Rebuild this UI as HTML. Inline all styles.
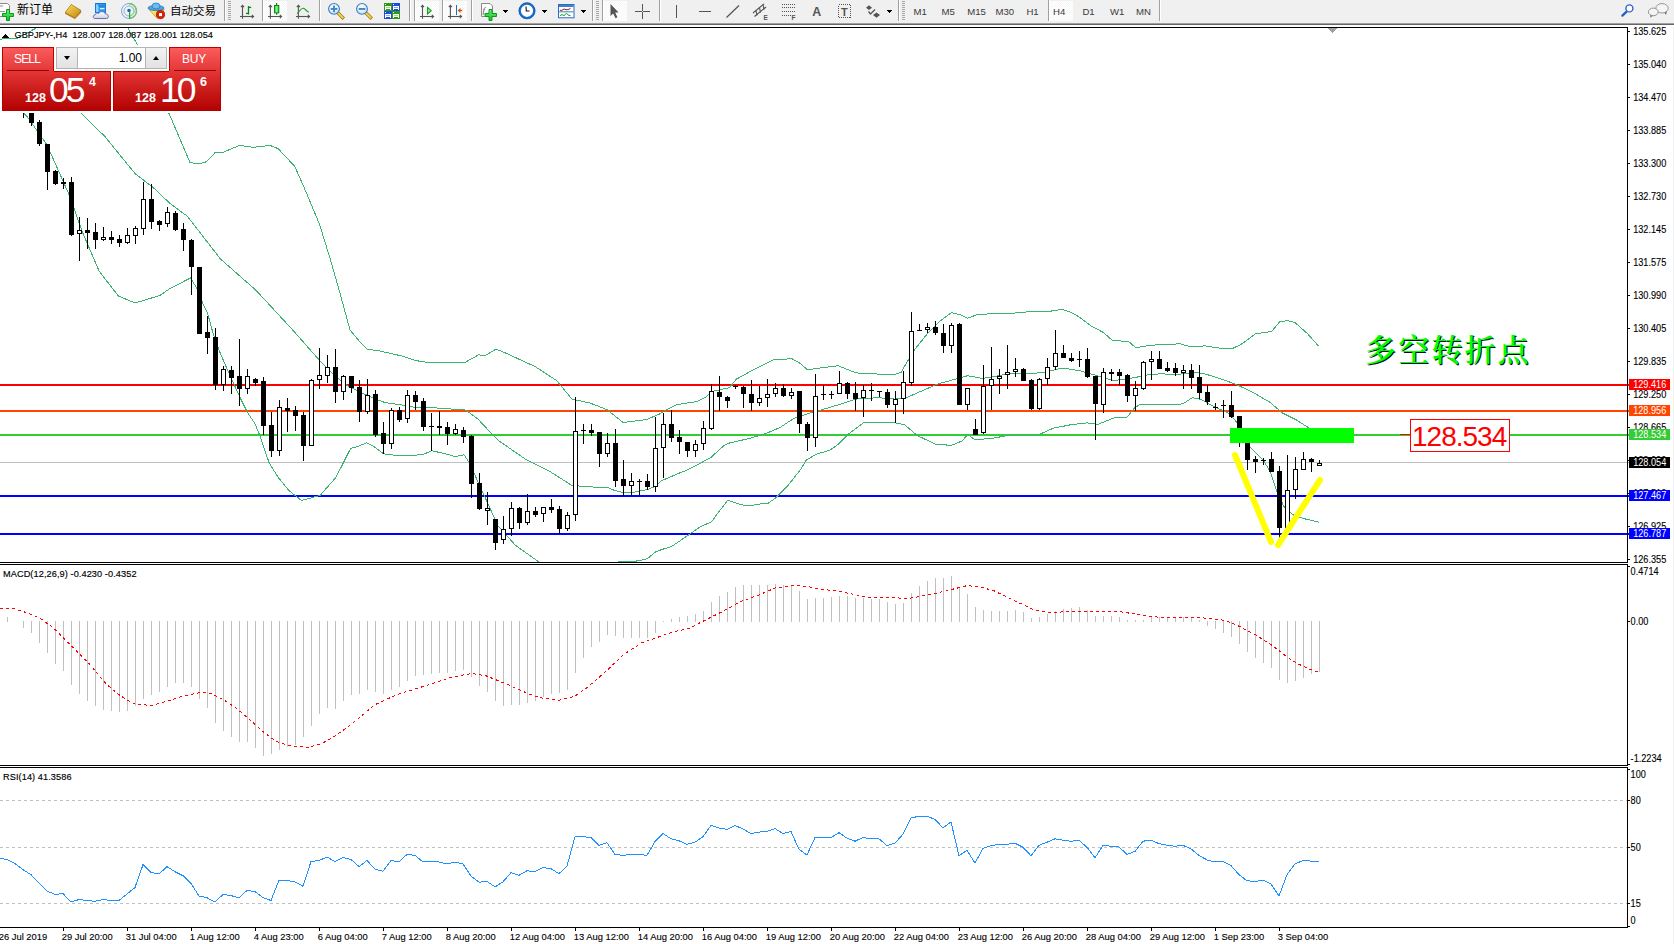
<!DOCTYPE html>
<html><head><meta charset="utf-8"><title>GBPJPY H4</title><style>
html,body{margin:0;padding:0;width:1674px;height:944px;overflow:hidden;background:#fff;}
body{position:relative;font-family:"Liberation Sans",Arial,sans-serif;}
#mask{position:absolute;left:0;top:45px;width:224px;height:68px;background:#fff;}
#sellTab,#buyTab{position:absolute;top:47px;width:50px;height:23px;border:1px solid #c10000;border-bottom:none;
  background:linear-gradient(#fa5c5c,#e43737);}
#sellTab{left:2px;} #buyTab{left:169px;}
#sellTab span,#buyTab span{position:absolute;top:4px;left:0;width:100%;text-align:center;color:#fff;font-size:12px;}
#sellTab span{letter-spacing:-0.8px;margin-left:-1px;} #buyTab span{letter-spacing:-0.3px;margin-left:-1px;}
#sellTab i,#buyTab i{position:absolute;left:4px;right:4px;top:22px;height:1px;background:#8c0000;box-shadow:0 1px 0 #f07070;}
#sellBig,#buyBig{position:absolute;top:71px;width:107px;height:39px;border:1px solid #b00000;border-top:none;
  background:linear-gradient(#e53535,#c51616 60%,#b40202);color:#fff;}
#sellBig{left:2px;} #buyBig{left:113px;width:106px;}
#sellBig b,#buyBig b{position:absolute;top:20px;font-size:12.5px;font-weight:700;}
#sellBig em,#buyBig em{position:absolute;top:-1px;font-style:normal;font-size:35.5px;letter-spacing:-3px;}
#sellBig sup,#buyBig sup{position:absolute;top:4px;font-size:12.5px;font-weight:700;}
#sellBig b{left:22px;} #sellBig em{left:46px;} #sellBig sup{left:86px;}
#buyBig b{left:21px;} #buyBig em{left:46px;} #buyBig sup{left:86px;}
.tl{position:absolute;top:71px;height:1px;background:#b30000;}
#lot{position:absolute;left:56px;top:47px;width:109px;height:20px;border:1px solid #b4b4b4;background:#fff;}
#lot .btn{position:absolute;top:0;width:20px;height:20px;background:linear-gradient(#f2f2f2,#e2e2e2);}
#lot .l{left:0;border-right:1px solid #b4b4b4;} #lot .r{right:0;border-left:1px solid #b4b4b4;}
#lot .val{position:absolute;right:24px;top:3px;font-size:12px;color:#000;}
#lot s{position:absolute;left:7px;width:0;height:0;border-left:3.5px solid transparent;border-right:3.5px solid transparent;}
#lot .dn{top:8px;border-top:4px solid #000;}
#lot .up{top:8px;border-bottom:4px solid #000;}
</style></head>
<body>
<svg id="chart" width="1674" height="944" viewBox="0 0 1674 944" shape-rendering="crispEdges" style="position:absolute;left:0;top:0">
<defs><clipPath id="cMain"><rect x="0" y="28" width="1627" height="534"/></clipPath><clipPath id="cMacd"><rect x="0" y="565" width="1627" height="200"/></clipPath><clipPath id="cRsi"><rect x="0" y="768" width="1627" height="159"/></clipPath></defs>
<rect x="0" y="0" width="1674" height="944" fill="#ffffff"/>
<g clip-path="url(#cMain)">
<rect x="0" y="462" width="1627" height="1" fill="#c0c0c0"/>
<rect x="0" y="384" width="1627" height="2" fill="#ff0000"/>
<rect x="0" y="410" width="1627" height="2" fill="#ff4500"/>
<rect x="0" y="434" width="1627" height="2" fill="#32cd32"/>
<rect x="0" y="495" width="1627" height="2" fill="#0000ff"/>
<rect x="0" y="533" width="1627" height="2" fill="#0000ff"/>
<polyline points="0.0,39.1 17.0,38.3 37.3,27.5 60.0,10.5 110.0,10.5 127.6,27.5 137.6,45.1 169.4,114.3 190.0,162.5 198.3,163.9 206.6,161.7 214.9,152.8 223.0,152.3 239.7,145.4 253.4,147.3 270.0,145.4 278.2,148.7 294.8,166.5 305.8,191.4 319.6,224.5 330.6,260.3 340.0,293.3 350.0,330.0 358.7,340.5 367.7,349.5 377.6,350.5 401.0,355.8 415.4,360.5 430.7,363.0 449.6,362.1 464.0,363.0 478.4,354.9 485.6,355.3 495.5,349.5 500.0,350.5 535.0,366.5 556.5,380.5 572.0,399.1 590.0,403.0 607.5,409.9 623.0,422.5 646.7,419.5 660.0,413.8 666.2,409.7 677.0,404.7 696.8,401.5 705.8,397.1 711.2,391.7 729.2,387.7 736.4,379.1 754.4,369.2 774.2,359.3 792.2,358.9 799.4,362.9 807.5,369.7 820.0,368.0 838.0,365.7 856.0,372.9 874.0,373.9 893.8,374.7 901.0,372.5 913.6,350.9 928.0,332.9 938.8,322.1 951.4,312.7 960.4,314.9 967.6,318.1 976.6,314.9 992.8,313.5 1009.8,313.5 1029.6,311.7 1049.4,311.3 1062.0,309.5 1071.0,312.2 1080.0,317.5 1090.8,325.7 1103.4,332.5 1112.4,340.5 1128.6,341.5 1135.8,347.7 1152.0,345.1 1170.0,344.5 1179.8,343.7 1190.6,346.9 1205.0,345.9 1223.0,348.7 1232.0,348.7 1241.0,344.5 1255.4,333.8 1271.6,331.5 1279.7,321.7 1287.8,320.7 1295.0,322.5 1307.6,333.8 1318.4,345.9" fill="none" stroke="#3cb371" stroke-width="1"/>
<polyline points="40.0,60.5 82.0,114.3 104.7,136.3 135.0,173.5 154.3,188.5 170.0,203.5 187.3,216.2 220.4,258.9 256.2,290.5 292.0,329.2 319.6,360.5 332.6,373.8 347.0,385.5 363.2,393.5 377.6,399.9 384.8,402.5 401.0,404.9 415.4,407.5 431.6,407.5 446.0,408.9 464.0,409.3 469.4,412.5 478.4,419.5 492.8,435.0 499.6,441.3 525.0,458.9 548.6,470.7 572.0,485.5 600.0,487.5 608.0,487.5 614.6,490.5 623.8,492.8 631.8,492.8 639.7,490.8 647.7,489.5 655.6,486.2 661.0,480.9 668.9,477.6 679.5,473.0 686.0,470.7 700.7,463.0 711.3,457.1 724.5,445.1 729.8,442.9 740.4,440.5 750.8,438.1 767.0,433.1 779.6,427.7 794.0,418.3 812.0,412.4 820.0,410.3 838.0,404.9 856.0,399.1 877.6,397.7 895.6,399.1 906.4,397.7 920.8,391.4 937.0,384.2 955.0,379.3 967.6,375.7 982.0,378.3 990.0,377.5 1008.0,373.9 1026.0,373.9 1044.0,372.5 1062.0,368.0 1080.0,370.7 1090.8,373.9 1101.6,377.0 1112.4,380.5 1125.0,379.3 1137.6,377.0 1148.4,374.7 1160.0,373.9 1178.0,374.3 1196.0,372.5 1203.2,373.4 1219.4,378.3 1235.6,384.2 1253.6,392.7 1269.8,402.2 1282.4,413.0 1296.8,420.2 1309.4,428.3 1320.0,433.5" fill="none" stroke="#3cb371" stroke-width="1"/>
<polyline points="10.0,80.5 24.8,114.3 27.5,117.0 46.8,144.5 68.9,194.2 82.6,232.5 99.2,271.3 118.5,296.1 135.0,303.0 159.8,295.5 170.0,288.5 190.5,278.0 197.0,288.5 202.4,302.3 207.8,314.0 213.2,333.8 220.4,353.5 229.5,374.5 240.3,398.0 247.5,412.4 254.7,423.2 260.0,435.8 269.1,462.8 278.1,477.3 288.9,490.5 301.5,500.5 320.0,495.5 336.0,477.3 350.6,448.5 357.8,446.5 366.8,442.7 374.0,446.7 383.9,453.9 399.2,455.7 422.6,454.8 431.6,450.7 446.0,453.9 455.0,456.5 464.0,454.8 469.4,462.9 478.4,482.7 491.0,510.5 497.6,525.5 515.3,545.2 538.8,561.9 560.0,570.5 600.0,570.5 619.2,561.7 634.4,561.3 641.0,560.4 647.7,558.4 655.6,551.8 661.0,549.8 671.5,546.5 679.5,541.2 690.0,533.9 700.7,526.5 711.3,522.0 719.2,511.4 727.8,500.1 735.1,502.8 743.0,505.1 753.6,505.1 756.3,504.1 767.5,503.8 776.2,497.5 786.8,486.9 800.0,470.3 806.6,459.7 817.4,453.8 830.0,450.2 838.0,444.5 848.8,433.7 863.2,422.9 895.6,422.9 904.6,424.7 917.2,435.5 935.2,444.1 951.4,445.4 962.2,440.9 967.6,434.5 974.8,439.5 990.0,438.7 1008.0,435.5 1026.0,434.0 1040.4,434.0 1053.0,428.3 1071.0,424.7 1087.2,422.9 1098.0,424.3 1116.0,417.1 1126.8,417.5 1134.0,408.5 1139.4,404.5 1160.0,404.5 1178.0,404.9 1183.4,403.5 1192.4,397.7 1201.4,399.5 1214.0,406.7 1228.4,413.0 1237.4,422.9 1249.7,446.5 1263.0,459.8 1270.4,471.7 1276.4,490.2 1283.8,506.5 1292.7,514.7 1303.0,518.4 1318.6,522.1" fill="none" stroke="#3cb371" stroke-width="1"/>
<rect x="23" y="100" width="1" height="18" fill="#000"/>
<rect x="21" y="100" width="5" height="13" fill="#000"/>
<rect x="31" y="105" width="1" height="21" fill="#000"/>
<rect x="29" y="105" width="5" height="18" fill="#000"/>
<rect x="39" y="120" width="1" height="26" fill="#000"/>
<rect x="37" y="122" width="5" height="22" fill="#000"/>
<rect x="47" y="144" width="1" height="46" fill="#000"/>
<rect x="45" y="144" width="5" height="28" fill="#000"/>
<rect x="55" y="170" width="1" height="15" fill="#000"/>
<rect x="53" y="171" width="5" height="13" fill="#000"/>
<rect x="63" y="178" width="1" height="11" fill="#000"/>
<rect x="61" y="182" width="5" height="2" fill="#000"/>
<rect x="71" y="177" width="1" height="59" fill="#000"/>
<rect x="69" y="182" width="5" height="53" fill="#000"/>
<rect x="79" y="217" width="1" height="44" fill="#000"/>
<rect x="77" y="230" width="5" height="4" fill="#000"/>
<rect x="78" y="231" width="3" height="2" fill="#fff"/>
<rect x="87" y="218" width="1" height="31" fill="#000"/>
<rect x="85" y="230" width="5" height="3" fill="#000"/>
<rect x="95" y="223" width="1" height="26" fill="#000"/>
<rect x="93" y="232" width="5" height="8" fill="#000"/>
<rect x="103" y="227" width="1" height="14" fill="#000"/>
<rect x="101" y="237" width="5" height="3" fill="#000"/>
<rect x="102" y="238" width="3" height="1" fill="#fff"/>
<rect x="111" y="231" width="1" height="13" fill="#000"/>
<rect x="109" y="237" width="5" height="3" fill="#000"/>
<rect x="119" y="235" width="1" height="12" fill="#000"/>
<rect x="117" y="239" width="5" height="4" fill="#000"/>
<rect x="127" y="228" width="1" height="16" fill="#000"/>
<rect x="125" y="235" width="5" height="8" fill="#000"/>
<rect x="126" y="236" width="3" height="6" fill="#fff"/>
<rect x="135" y="226" width="1" height="18" fill="#000"/>
<rect x="133" y="228" width="5" height="8" fill="#000"/>
<rect x="134" y="229" width="3" height="6" fill="#fff"/>
<rect x="143" y="182" width="1" height="53" fill="#000"/>
<rect x="141" y="199" width="5" height="30" fill="#000"/>
<rect x="142" y="200" width="3" height="28" fill="#fff"/>
<rect x="151" y="184" width="1" height="45" fill="#000"/>
<rect x="149" y="199" width="5" height="23" fill="#000"/>
<rect x="159" y="220" width="1" height="11" fill="#000"/>
<rect x="157" y="221" width="5" height="4" fill="#000"/>
<rect x="167" y="207" width="1" height="20" fill="#000"/>
<rect x="165" y="212" width="5" height="12" fill="#000"/>
<rect x="166" y="213" width="3" height="10" fill="#fff"/>
<rect x="175" y="211" width="1" height="20" fill="#000"/>
<rect x="173" y="213" width="5" height="17" fill="#000"/>
<rect x="183" y="223" width="1" height="28" fill="#000"/>
<rect x="181" y="229" width="5" height="11" fill="#000"/>
<rect x="191" y="239" width="1" height="56" fill="#000"/>
<rect x="189" y="240" width="5" height="27" fill="#000"/>
<rect x="199" y="267" width="1" height="67" fill="#000"/>
<rect x="197" y="267" width="5" height="67" fill="#000"/>
<rect x="207" y="316" width="1" height="38" fill="#000"/>
<rect x="205" y="332" width="5" height="6" fill="#000"/>
<rect x="215" y="328" width="1" height="62" fill="#000"/>
<rect x="213" y="337" width="5" height="48" fill="#000"/>
<rect x="223" y="366" width="1" height="25" fill="#000"/>
<rect x="221" y="369" width="5" height="16" fill="#000"/>
<rect x="222" y="370" width="3" height="14" fill="#fff"/>
<rect x="231" y="366" width="1" height="28" fill="#000"/>
<rect x="229" y="370" width="5" height="8" fill="#000"/>
<rect x="239" y="339" width="1" height="67" fill="#000"/>
<rect x="237" y="376" width="5" height="13" fill="#000"/>
<rect x="247" y="369" width="1" height="25" fill="#000"/>
<rect x="245" y="376" width="5" height="13" fill="#000"/>
<rect x="246" y="377" width="3" height="11" fill="#fff"/>
<rect x="255" y="378" width="1" height="8" fill="#000"/>
<rect x="253" y="379" width="5" height="4" fill="#000"/>
<rect x="263" y="377" width="1" height="58" fill="#000"/>
<rect x="261" y="381" width="5" height="45" fill="#000"/>
<rect x="271" y="412" width="1" height="45" fill="#000"/>
<rect x="269" y="425" width="5" height="26" fill="#000"/>
<rect x="279" y="400" width="1" height="56" fill="#000"/>
<rect x="277" y="407" width="5" height="44" fill="#000"/>
<rect x="278" y="408" width="3" height="42" fill="#fff"/>
<rect x="287" y="398" width="1" height="34" fill="#000"/>
<rect x="285" y="408" width="5" height="3" fill="#000"/>
<rect x="295" y="406" width="1" height="25" fill="#000"/>
<rect x="293" y="410" width="5" height="6" fill="#000"/>
<rect x="303" y="412" width="1" height="49" fill="#000"/>
<rect x="301" y="415" width="5" height="31" fill="#000"/>
<rect x="311" y="379" width="1" height="67" fill="#000"/>
<rect x="309" y="380" width="5" height="66" fill="#000"/>
<rect x="310" y="381" width="3" height="64" fill="#fff"/>
<rect x="319" y="348" width="1" height="41" fill="#000"/>
<rect x="317" y="375" width="5" height="5" fill="#000"/>
<rect x="318" y="376" width="3" height="3" fill="#fff"/>
<rect x="327" y="355" width="1" height="28" fill="#000"/>
<rect x="325" y="367" width="5" height="9" fill="#000"/>
<rect x="326" y="368" width="3" height="7" fill="#fff"/>
<rect x="335" y="349" width="1" height="54" fill="#000"/>
<rect x="333" y="367" width="5" height="25" fill="#000"/>
<rect x="343" y="375" width="1" height="25" fill="#000"/>
<rect x="341" y="376" width="5" height="16" fill="#000"/>
<rect x="342" y="377" width="3" height="14" fill="#fff"/>
<rect x="351" y="376" width="1" height="17" fill="#000"/>
<rect x="349" y="376" width="5" height="12" fill="#000"/>
<rect x="359" y="380" width="1" height="42" fill="#000"/>
<rect x="357" y="387" width="5" height="25" fill="#000"/>
<rect x="367" y="379" width="1" height="35" fill="#000"/>
<rect x="365" y="395" width="5" height="17" fill="#000"/>
<rect x="366" y="396" width="3" height="15" fill="#fff"/>
<rect x="375" y="390" width="1" height="47" fill="#000"/>
<rect x="373" y="394" width="5" height="41" fill="#000"/>
<rect x="383" y="422" width="1" height="32" fill="#000"/>
<rect x="381" y="433" width="5" height="11" fill="#000"/>
<rect x="391" y="408" width="1" height="41" fill="#000"/>
<rect x="389" y="410" width="5" height="34" fill="#000"/>
<rect x="390" y="411" width="3" height="32" fill="#fff"/>
<rect x="399" y="407" width="1" height="15" fill="#000"/>
<rect x="397" y="410" width="5" height="10" fill="#000"/>
<rect x="407" y="390" width="1" height="33" fill="#000"/>
<rect x="405" y="395" width="5" height="24" fill="#000"/>
<rect x="406" y="396" width="3" height="22" fill="#fff"/>
<rect x="415" y="391" width="1" height="19" fill="#000"/>
<rect x="413" y="395" width="5" height="7" fill="#000"/>
<rect x="423" y="398" width="1" height="33" fill="#000"/>
<rect x="421" y="401" width="5" height="26" fill="#000"/>
<rect x="431" y="413" width="1" height="38" fill="#000"/>
<rect x="429" y="426" width="5" height="1" fill="#000"/>
<rect x="439" y="411" width="1" height="24" fill="#000"/>
<rect x="437" y="426" width="5" height="2" fill="#000"/>
<rect x="447" y="422" width="1" height="23" fill="#000"/>
<rect x="445" y="427" width="5" height="7" fill="#000"/>
<rect x="455" y="424" width="1" height="11" fill="#000"/>
<rect x="453" y="429" width="5" height="5" fill="#000"/>
<rect x="454" y="430" width="3" height="3" fill="#fff"/>
<rect x="463" y="427" width="1" height="16" fill="#000"/>
<rect x="461" y="430" width="5" height="7" fill="#000"/>
<rect x="471" y="435" width="1" height="63" fill="#000"/>
<rect x="469" y="436" width="5" height="48" fill="#000"/>
<rect x="479" y="473" width="1" height="37" fill="#000"/>
<rect x="477" y="483" width="5" height="26" fill="#000"/>
<rect x="487" y="492" width="1" height="33" fill="#000"/>
<rect x="485" y="508" width="5" height="3" fill="#000"/>
<rect x="486" y="509" width="3" height="1" fill="#fff"/>
<rect x="495" y="519" width="1" height="31" fill="#000"/>
<rect x="493" y="519" width="5" height="24" fill="#000"/>
<rect x="503" y="516" width="1" height="28" fill="#000"/>
<rect x="501" y="529" width="5" height="11" fill="#000"/>
<rect x="502" y="530" width="3" height="9" fill="#fff"/>
<rect x="511" y="502" width="1" height="34" fill="#000"/>
<rect x="509" y="508" width="5" height="21" fill="#000"/>
<rect x="510" y="509" width="3" height="19" fill="#fff"/>
<rect x="519" y="507" width="1" height="22" fill="#000"/>
<rect x="517" y="508" width="5" height="15" fill="#000"/>
<rect x="527" y="494" width="1" height="31" fill="#000"/>
<rect x="525" y="511" width="5" height="12" fill="#000"/>
<rect x="526" y="512" width="3" height="10" fill="#fff"/>
<rect x="535" y="507" width="1" height="10" fill="#000"/>
<rect x="533" y="511" width="5" height="4" fill="#000"/>
<rect x="543" y="507" width="1" height="15" fill="#000"/>
<rect x="541" y="507" width="5" height="7" fill="#000"/>
<rect x="542" y="508" width="3" height="5" fill="#fff"/>
<rect x="551" y="499" width="1" height="14" fill="#000"/>
<rect x="549" y="507" width="5" height="3" fill="#000"/>
<rect x="559" y="506" width="1" height="28" fill="#000"/>
<rect x="557" y="509" width="5" height="20" fill="#000"/>
<rect x="567" y="512" width="1" height="19" fill="#000"/>
<rect x="565" y="515" width="5" height="14" fill="#000"/>
<rect x="566" y="516" width="3" height="12" fill="#fff"/>
<rect x="575" y="397" width="1" height="124" fill="#000"/>
<rect x="573" y="431" width="5" height="84" fill="#000"/>
<rect x="574" y="432" width="3" height="82" fill="#fff"/>
<rect x="583" y="424" width="1" height="20" fill="#000"/>
<rect x="581" y="430" width="5" height="1" fill="#000"/>
<rect x="591" y="424" width="1" height="12" fill="#000"/>
<rect x="589" y="430" width="5" height="3" fill="#000"/>
<rect x="599" y="432" width="1" height="35" fill="#000"/>
<rect x="597" y="432" width="5" height="22" fill="#000"/>
<rect x="607" y="433" width="1" height="24" fill="#000"/>
<rect x="605" y="443" width="5" height="11" fill="#000"/>
<rect x="606" y="444" width="3" height="9" fill="#fff"/>
<rect x="615" y="429" width="1" height="58" fill="#000"/>
<rect x="613" y="443" width="5" height="38" fill="#000"/>
<rect x="623" y="460" width="1" height="36" fill="#000"/>
<rect x="621" y="479" width="5" height="7" fill="#000"/>
<rect x="631" y="473" width="1" height="22" fill="#000"/>
<rect x="629" y="481" width="5" height="5" fill="#000"/>
<rect x="630" y="482" width="3" height="3" fill="#fff"/>
<rect x="639" y="479" width="1" height="16" fill="#000"/>
<rect x="637" y="481" width="5" height="1" fill="#000"/>
<rect x="647" y="474" width="1" height="16" fill="#000"/>
<rect x="645" y="481" width="5" height="6" fill="#000"/>
<rect x="655" y="417" width="1" height="75" fill="#000"/>
<rect x="653" y="448" width="5" height="39" fill="#000"/>
<rect x="654" y="449" width="3" height="37" fill="#fff"/>
<rect x="663" y="413" width="1" height="65" fill="#000"/>
<rect x="661" y="424" width="5" height="24" fill="#000"/>
<rect x="662" y="425" width="3" height="22" fill="#fff"/>
<rect x="671" y="410" width="1" height="32" fill="#000"/>
<rect x="669" y="424" width="5" height="14" fill="#000"/>
<rect x="679" y="430" width="1" height="24" fill="#000"/>
<rect x="677" y="437" width="5" height="5" fill="#000"/>
<rect x="687" y="442" width="1" height="15" fill="#000"/>
<rect x="685" y="442" width="5" height="9" fill="#000"/>
<rect x="695" y="440" width="1" height="17" fill="#000"/>
<rect x="693" y="444" width="5" height="7" fill="#000"/>
<rect x="694" y="445" width="3" height="5" fill="#fff"/>
<rect x="703" y="421" width="1" height="29" fill="#000"/>
<rect x="701" y="428" width="5" height="16" fill="#000"/>
<rect x="702" y="429" width="3" height="14" fill="#fff"/>
<rect x="711" y="384" width="1" height="46" fill="#000"/>
<rect x="709" y="391" width="5" height="38" fill="#000"/>
<rect x="710" y="392" width="3" height="36" fill="#fff"/>
<rect x="719" y="376" width="1" height="35" fill="#000"/>
<rect x="717" y="392" width="5" height="5" fill="#000"/>
<rect x="727" y="396" width="1" height="12" fill="#000"/>
<rect x="725" y="397" width="5" height="4" fill="#000"/>
<rect x="735" y="385" width="1" height="4" fill="#000"/>
<rect x="733" y="386" width="5" height="1" fill="#000"/>
<rect x="743" y="386" width="1" height="22" fill="#000"/>
<rect x="741" y="387" width="5" height="7" fill="#000"/>
<rect x="751" y="380" width="1" height="31" fill="#000"/>
<rect x="749" y="394" width="5" height="9" fill="#000"/>
<rect x="759" y="386" width="1" height="20" fill="#000"/>
<rect x="757" y="398" width="5" height="5" fill="#000"/>
<rect x="758" y="399" width="3" height="3" fill="#fff"/>
<rect x="767" y="379" width="1" height="28" fill="#000"/>
<rect x="765" y="394" width="5" height="4" fill="#000"/>
<rect x="766" y="395" width="3" height="2" fill="#fff"/>
<rect x="775" y="383" width="1" height="14" fill="#000"/>
<rect x="773" y="388" width="5" height="6" fill="#000"/>
<rect x="774" y="389" width="3" height="4" fill="#fff"/>
<rect x="783" y="384" width="1" height="13" fill="#000"/>
<rect x="781" y="388" width="5" height="8" fill="#000"/>
<rect x="791" y="388" width="1" height="11" fill="#000"/>
<rect x="789" y="392" width="5" height="4" fill="#000"/>
<rect x="790" y="393" width="3" height="2" fill="#fff"/>
<rect x="799" y="391" width="1" height="42" fill="#000"/>
<rect x="797" y="391" width="5" height="33" fill="#000"/>
<rect x="807" y="422" width="1" height="29" fill="#000"/>
<rect x="805" y="424" width="5" height="14" fill="#000"/>
<rect x="815" y="374" width="1" height="73" fill="#000"/>
<rect x="813" y="396" width="5" height="42" fill="#000"/>
<rect x="814" y="397" width="3" height="40" fill="#fff"/>
<rect x="823" y="385" width="1" height="15" fill="#000"/>
<rect x="821" y="394" width="5" height="1" fill="#000"/>
<rect x="831" y="391" width="1" height="8" fill="#000"/>
<rect x="829" y="394" width="5" height="1" fill="#000"/>
<rect x="839" y="371" width="1" height="23" fill="#000"/>
<rect x="837" y="383" width="5" height="11" fill="#000"/>
<rect x="838" y="384" width="3" height="9" fill="#fff"/>
<rect x="847" y="382" width="1" height="17" fill="#000"/>
<rect x="845" y="383" width="5" height="11" fill="#000"/>
<rect x="855" y="382" width="1" height="29" fill="#000"/>
<rect x="853" y="393" width="5" height="6" fill="#000"/>
<rect x="863" y="385" width="1" height="32" fill="#000"/>
<rect x="861" y="390" width="5" height="8" fill="#000"/>
<rect x="862" y="391" width="3" height="6" fill="#fff"/>
<rect x="871" y="383" width="1" height="18" fill="#000"/>
<rect x="869" y="390" width="5" height="1" fill="#000"/>
<rect x="879" y="391" width="1" height="6" fill="#000"/>
<rect x="877" y="391" width="5" height="1" fill="#000"/>
<rect x="887" y="389" width="1" height="19" fill="#000"/>
<rect x="885" y="392" width="5" height="13" fill="#000"/>
<rect x="895" y="391" width="1" height="32" fill="#000"/>
<rect x="893" y="399" width="5" height="6" fill="#000"/>
<rect x="894" y="400" width="3" height="4" fill="#fff"/>
<rect x="903" y="371" width="1" height="43" fill="#000"/>
<rect x="901" y="382" width="5" height="17" fill="#000"/>
<rect x="902" y="383" width="3" height="15" fill="#fff"/>
<rect x="911" y="312" width="1" height="74" fill="#000"/>
<rect x="909" y="331" width="5" height="52" fill="#000"/>
<rect x="910" y="332" width="3" height="50" fill="#fff"/>
<rect x="919" y="324" width="1" height="7" fill="#000"/>
<rect x="917" y="330" width="5" height="1" fill="#000"/>
<rect x="927" y="323" width="1" height="10" fill="#000"/>
<rect x="925" y="327" width="5" height="3" fill="#000"/>
<rect x="926" y="328" width="3" height="1" fill="#fff"/>
<rect x="935" y="321" width="1" height="14" fill="#000"/>
<rect x="933" y="327" width="5" height="6" fill="#000"/>
<rect x="943" y="324" width="1" height="29" fill="#000"/>
<rect x="941" y="333" width="5" height="13" fill="#000"/>
<rect x="951" y="323" width="1" height="30" fill="#000"/>
<rect x="949" y="325" width="5" height="21" fill="#000"/>
<rect x="950" y="326" width="3" height="19" fill="#fff"/>
<rect x="959" y="323" width="1" height="82" fill="#000"/>
<rect x="957" y="324" width="5" height="81" fill="#000"/>
<rect x="967" y="388" width="1" height="22" fill="#000"/>
<rect x="965" y="388" width="5" height="17" fill="#000"/>
<rect x="966" y="389" width="3" height="15" fill="#fff"/>
<rect x="975" y="419" width="1" height="16" fill="#000"/>
<rect x="973" y="429" width="5" height="6" fill="#000"/>
<rect x="983" y="365" width="1" height="69" fill="#000"/>
<rect x="981" y="386" width="5" height="47" fill="#000"/>
<rect x="982" y="387" width="3" height="45" fill="#fff"/>
<rect x="991" y="347" width="1" height="63" fill="#000"/>
<rect x="989" y="379" width="5" height="7" fill="#000"/>
<rect x="990" y="380" width="3" height="5" fill="#fff"/>
<rect x="999" y="369" width="1" height="25" fill="#000"/>
<rect x="997" y="376" width="5" height="3" fill="#000"/>
<rect x="998" y="377" width="3" height="1" fill="#fff"/>
<rect x="1007" y="345" width="1" height="44" fill="#000"/>
<rect x="1005" y="372" width="5" height="3" fill="#000"/>
<rect x="1006" y="373" width="3" height="1" fill="#fff"/>
<rect x="1015" y="358" width="1" height="19" fill="#000"/>
<rect x="1013" y="369" width="5" height="3" fill="#000"/>
<rect x="1014" y="370" width="3" height="1" fill="#fff"/>
<rect x="1023" y="368" width="1" height="13" fill="#000"/>
<rect x="1021" y="369" width="5" height="12" fill="#000"/>
<rect x="1031" y="379" width="1" height="31" fill="#000"/>
<rect x="1029" y="380" width="5" height="29" fill="#000"/>
<rect x="1039" y="378" width="1" height="32" fill="#000"/>
<rect x="1037" y="379" width="5" height="30" fill="#000"/>
<rect x="1038" y="380" width="3" height="28" fill="#fff"/>
<rect x="1047" y="358" width="1" height="27" fill="#000"/>
<rect x="1045" y="367" width="5" height="12" fill="#000"/>
<rect x="1046" y="368" width="3" height="10" fill="#fff"/>
<rect x="1055" y="330" width="1" height="40" fill="#000"/>
<rect x="1053" y="353" width="5" height="14" fill="#000"/>
<rect x="1054" y="354" width="3" height="12" fill="#fff"/>
<rect x="1063" y="345" width="1" height="13" fill="#000"/>
<rect x="1061" y="353" width="5" height="5" fill="#000"/>
<rect x="1071" y="353" width="1" height="9" fill="#000"/>
<rect x="1069" y="358" width="5" height="3" fill="#000"/>
<rect x="1079" y="351" width="1" height="16" fill="#000"/>
<rect x="1077" y="359" width="5" height="1" fill="#000"/>
<rect x="1087" y="348" width="1" height="30" fill="#000"/>
<rect x="1085" y="359" width="5" height="18" fill="#000"/>
<rect x="1095" y="376" width="1" height="64" fill="#000"/>
<rect x="1093" y="376" width="5" height="28" fill="#000"/>
<rect x="1103" y="368" width="1" height="45" fill="#000"/>
<rect x="1101" y="372" width="5" height="33" fill="#000"/>
<rect x="1102" y="373" width="3" height="31" fill="#fff"/>
<rect x="1111" y="369" width="1" height="12" fill="#000"/>
<rect x="1109" y="372" width="5" height="2" fill="#000"/>
<rect x="1119" y="369" width="1" height="16" fill="#000"/>
<rect x="1117" y="372" width="5" height="4" fill="#000"/>
<rect x="1127" y="374" width="1" height="28" fill="#000"/>
<rect x="1125" y="375" width="5" height="21" fill="#000"/>
<rect x="1135" y="381" width="1" height="30" fill="#000"/>
<rect x="1133" y="388" width="5" height="8" fill="#000"/>
<rect x="1134" y="389" width="3" height="6" fill="#fff"/>
<rect x="1143" y="361" width="1" height="29" fill="#000"/>
<rect x="1141" y="362" width="5" height="27" fill="#000"/>
<rect x="1142" y="363" width="3" height="25" fill="#fff"/>
<rect x="1151" y="351" width="1" height="29" fill="#000"/>
<rect x="1149" y="359" width="5" height="3" fill="#000"/>
<rect x="1150" y="360" width="3" height="1" fill="#fff"/>
<rect x="1159" y="351" width="1" height="18" fill="#000"/>
<rect x="1157" y="359" width="5" height="10" fill="#000"/>
<rect x="1167" y="362" width="1" height="10" fill="#000"/>
<rect x="1165" y="368" width="5" height="3" fill="#000"/>
<rect x="1175" y="363" width="1" height="13" fill="#000"/>
<rect x="1173" y="368" width="5" height="5" fill="#000"/>
<rect x="1183" y="365" width="1" height="24" fill="#000"/>
<rect x="1181" y="370" width="5" height="3" fill="#000"/>
<rect x="1182" y="371" width="3" height="1" fill="#fff"/>
<rect x="1191" y="364" width="1" height="25" fill="#000"/>
<rect x="1189" y="370" width="5" height="8" fill="#000"/>
<rect x="1199" y="365" width="1" height="34" fill="#000"/>
<rect x="1197" y="377" width="5" height="16" fill="#000"/>
<rect x="1207" y="385" width="1" height="20" fill="#000"/>
<rect x="1205" y="392" width="5" height="10" fill="#000"/>
<rect x="1215" y="403" width="1" height="7" fill="#000"/>
<rect x="1213" y="407" width="5" height="1" fill="#000"/>
<rect x="1223" y="400" width="1" height="18" fill="#000"/>
<rect x="1221" y="405" width="5" height="1" fill="#000"/>
<rect x="1231" y="391" width="1" height="27" fill="#000"/>
<rect x="1229" y="405" width="5" height="12" fill="#000"/>
<rect x="1239" y="416" width="1" height="31" fill="#000"/>
<rect x="1237" y="416" width="5" height="26" fill="#000"/>
<rect x="1247" y="443" width="1" height="27" fill="#000"/>
<rect x="1245" y="443" width="5" height="17" fill="#000"/>
<rect x="1255" y="456" width="1" height="17" fill="#000"/>
<rect x="1253" y="459" width="5" height="3" fill="#000"/>
<rect x="1263" y="458" width="1" height="7" fill="#000"/>
<rect x="1261" y="460" width="5" height="1" fill="#000"/>
<rect x="1271" y="452" width="1" height="20" fill="#000"/>
<rect x="1269" y="459" width="5" height="13" fill="#000"/>
<rect x="1279" y="466" width="1" height="72" fill="#000"/>
<rect x="1277" y="471" width="5" height="57" fill="#000"/>
<rect x="1287" y="455" width="1" height="73" fill="#000"/>
<rect x="1285" y="490" width="5" height="38" fill="#000"/>
<rect x="1286" y="491" width="3" height="36" fill="#fff"/>
<rect x="1295" y="457" width="1" height="42" fill="#000"/>
<rect x="1293" y="469" width="5" height="21" fill="#000"/>
<rect x="1294" y="470" width="3" height="19" fill="#fff"/>
<rect x="1303" y="452" width="1" height="18" fill="#000"/>
<rect x="1301" y="459" width="5" height="11" fill="#000"/>
<rect x="1302" y="460" width="3" height="9" fill="#fff"/>
<rect x="1311" y="458" width="1" height="14" fill="#000"/>
<rect x="1309" y="459" width="5" height="3" fill="#000"/>
<rect x="1319" y="460" width="1" height="6" fill="#000"/>
<rect x="1317" y="463" width="5" height="3" fill="#000"/>
<rect x="1318" y="464" width="3" height="1" fill="#fff"/>
</g>
<rect x="1230" y="428" width="124" height="15" fill="#00ff00"/>
<polyline points="1235,455 1271,542" fill="none" stroke="#ffff00" stroke-width="6" stroke-linecap="round" shape-rendering="auto"/>
<polyline points="1278,545 1320,480" fill="none" stroke="#ffff00" stroke-width="6" stroke-linecap="round" shape-rendering="auto"/>
<rect x="1400" y="434" width="10" height="1" fill="#ff0000"/>
<rect x="1410.5" y="419.5" width="99" height="32" fill="#fff" stroke="#ff0000" stroke-width="1"/>
<text x="1412" y="446" font-family='"Liberation Sans", Arial, sans-serif' font-size="28" fill="#ff0000" letter-spacing="-1" shape-rendering="auto">128.534</text>
<text x="1366" y="362" font-family='"Noto Serif CJK SC", serif' font-weight="600" font-size="31" letter-spacing="2.2" shape-rendering="auto" fill="#001018">多空转折点</text>
<text x="1365" y="361" font-family='"Noto Serif CJK SC", serif' font-weight="600" font-size="31" letter-spacing="2.2" shape-rendering="auto" fill="#00ff00">多空转折点</text>
<polygon points="1328,28 1337,28 1332.5,33" fill="#a0a0a0"/>
<g clip-path="url(#cMacd)">
<rect x="7" y="617" width="1" height="5" fill="#c0c0c0"/>
<rect x="23" y="621" width="1" height="7" fill="#c0c0c0"/>
<rect x="31" y="621" width="1" height="12" fill="#c0c0c0"/>
<rect x="39" y="621" width="1" height="22" fill="#c0c0c0"/>
<rect x="47" y="621" width="1" height="32" fill="#c0c0c0"/>
<rect x="55" y="621" width="1" height="43" fill="#c0c0c0"/>
<rect x="63" y="621" width="1" height="50" fill="#c0c0c0"/>
<rect x="71" y="621" width="1" height="64" fill="#c0c0c0"/>
<rect x="79" y="621" width="1" height="73" fill="#c0c0c0"/>
<rect x="87" y="621" width="1" height="80" fill="#c0c0c0"/>
<rect x="95" y="621" width="1" height="85" fill="#c0c0c0"/>
<rect x="103" y="621" width="1" height="89" fill="#c0c0c0"/>
<rect x="111" y="621" width="1" height="90" fill="#c0c0c0"/>
<rect x="119" y="621" width="1" height="91" fill="#c0c0c0"/>
<rect x="127" y="621" width="1" height="90" fill="#c0c0c0"/>
<rect x="135" y="621" width="1" height="85" fill="#c0c0c0"/>
<rect x="143" y="621" width="1" height="78" fill="#c0c0c0"/>
<rect x="151" y="621" width="1" height="74" fill="#c0c0c0"/>
<rect x="159" y="621" width="1" height="71" fill="#c0c0c0"/>
<rect x="167" y="621" width="1" height="66" fill="#c0c0c0"/>
<rect x="175" y="621" width="1" height="62" fill="#c0c0c0"/>
<rect x="183" y="621" width="1" height="62" fill="#c0c0c0"/>
<rect x="191" y="621" width="1" height="66" fill="#c0c0c0"/>
<rect x="199" y="621" width="1" height="78" fill="#c0c0c0"/>
<rect x="207" y="621" width="1" height="87" fill="#c0c0c0"/>
<rect x="215" y="621" width="1" height="102" fill="#c0c0c0"/>
<rect x="223" y="621" width="1" height="110" fill="#c0c0c0"/>
<rect x="231" y="621" width="1" height="116" fill="#c0c0c0"/>
<rect x="239" y="621" width="1" height="121" fill="#c0c0c0"/>
<rect x="247" y="621" width="1" height="121" fill="#c0c0c0"/>
<rect x="255" y="621" width="1" height="127" fill="#c0c0c0"/>
<rect x="263" y="621" width="1" height="135" fill="#c0c0c0"/>
<rect x="271" y="621" width="1" height="133" fill="#c0c0c0"/>
<rect x="279" y="621" width="1" height="129" fill="#c0c0c0"/>
<rect x="287" y="621" width="1" height="126" fill="#c0c0c0"/>
<rect x="295" y="621" width="1" height="124" fill="#c0c0c0"/>
<rect x="303" y="621" width="1" height="116" fill="#c0c0c0"/>
<rect x="311" y="621" width="1" height="105" fill="#c0c0c0"/>
<rect x="319" y="621" width="1" height="93" fill="#c0c0c0"/>
<rect x="327" y="621" width="1" height="87" fill="#c0c0c0"/>
<rect x="335" y="621" width="1" height="88" fill="#c0c0c0"/>
<rect x="343" y="621" width="1" height="80" fill="#c0c0c0"/>
<rect x="351" y="621" width="1" height="74" fill="#c0c0c0"/>
<rect x="359" y="621" width="1" height="73" fill="#c0c0c0"/>
<rect x="367" y="621" width="1" height="69" fill="#c0c0c0"/>
<rect x="375" y="621" width="1" height="71" fill="#c0c0c0"/>
<rect x="383" y="621" width="1" height="73" fill="#c0c0c0"/>
<rect x="391" y="621" width="1" height="69" fill="#c0c0c0"/>
<rect x="399" y="621" width="1" height="66" fill="#c0c0c0"/>
<rect x="407" y="621" width="1" height="60" fill="#c0c0c0"/>
<rect x="415" y="621" width="1" height="55" fill="#c0c0c0"/>
<rect x="423" y="621" width="1" height="54" fill="#c0c0c0"/>
<rect x="431" y="621" width="1" height="53" fill="#c0c0c0"/>
<rect x="439" y="621" width="1" height="52" fill="#c0c0c0"/>
<rect x="447" y="621" width="1" height="52" fill="#c0c0c0"/>
<rect x="455" y="621" width="1" height="50" fill="#c0c0c0"/>
<rect x="463" y="621" width="1" height="49" fill="#c0c0c0"/>
<rect x="471" y="621" width="1" height="56" fill="#c0c0c0"/>
<rect x="479" y="621" width="1" height="65" fill="#c0c0c0"/>
<rect x="487" y="621" width="1" height="71" fill="#c0c0c0"/>
<rect x="495" y="621" width="1" height="80" fill="#c0c0c0"/>
<rect x="503" y="621" width="1" height="85" fill="#c0c0c0"/>
<rect x="511" y="621" width="1" height="84" fill="#c0c0c0"/>
<rect x="519" y="621" width="1" height="84" fill="#c0c0c0"/>
<rect x="527" y="621" width="1" height="82" fill="#c0c0c0"/>
<rect x="535" y="621" width="1" height="80" fill="#c0c0c0"/>
<rect x="543" y="621" width="1" height="76" fill="#c0c0c0"/>
<rect x="551" y="621" width="1" height="73" fill="#c0c0c0"/>
<rect x="559" y="621" width="1" height="72" fill="#c0c0c0"/>
<rect x="567" y="621" width="1" height="69" fill="#c0c0c0"/>
<rect x="575" y="621" width="1" height="52" fill="#c0c0c0"/>
<rect x="583" y="621" width="1" height="37" fill="#c0c0c0"/>
<rect x="591" y="621" width="1" height="26" fill="#c0c0c0"/>
<rect x="599" y="621" width="1" height="21" fill="#c0c0c0"/>
<rect x="607" y="621" width="1" height="14" fill="#c0c0c0"/>
<rect x="615" y="621" width="1" height="15" fill="#c0c0c0"/>
<rect x="623" y="621" width="1" height="17" fill="#c0c0c0"/>
<rect x="631" y="621" width="1" height="17" fill="#c0c0c0"/>
<rect x="639" y="621" width="1" height="17" fill="#c0c0c0"/>
<rect x="647" y="621" width="1" height="17" fill="#c0c0c0"/>
<rect x="655" y="621" width="1" height="12" fill="#c0c0c0"/>
<rect x="663" y="621" width="1" height="1" fill="#c0c0c0"/>
<rect x="671" y="619" width="1" height="3" fill="#c0c0c0"/>
<rect x="679" y="617" width="1" height="5" fill="#c0c0c0"/>
<rect x="687" y="616" width="1" height="6" fill="#c0c0c0"/>
<rect x="695" y="614" width="1" height="8" fill="#c0c0c0"/>
<rect x="703" y="611" width="1" height="11" fill="#c0c0c0"/>
<rect x="711" y="602" width="1" height="20" fill="#c0c0c0"/>
<rect x="719" y="596" width="1" height="26" fill="#c0c0c0"/>
<rect x="727" y="592" width="1" height="30" fill="#c0c0c0"/>
<rect x="735" y="587" width="1" height="35" fill="#c0c0c0"/>
<rect x="743" y="585" width="1" height="37" fill="#c0c0c0"/>
<rect x="751" y="585" width="1" height="37" fill="#c0c0c0"/>
<rect x="759" y="585" width="1" height="37" fill="#c0c0c0"/>
<rect x="767" y="585" width="1" height="37" fill="#c0c0c0"/>
<rect x="775" y="584" width="1" height="38" fill="#c0c0c0"/>
<rect x="783" y="585" width="1" height="37" fill="#c0c0c0"/>
<rect x="791" y="585" width="1" height="37" fill="#c0c0c0"/>
<rect x="799" y="591" width="1" height="31" fill="#c0c0c0"/>
<rect x="807" y="599" width="1" height="23" fill="#c0c0c0"/>
<rect x="815" y="598" width="1" height="24" fill="#c0c0c0"/>
<rect x="823" y="598" width="1" height="24" fill="#c0c0c0"/>
<rect x="831" y="597" width="1" height="25" fill="#c0c0c0"/>
<rect x="839" y="596" width="1" height="26" fill="#c0c0c0"/>
<rect x="847" y="596" width="1" height="26" fill="#c0c0c0"/>
<rect x="855" y="598" width="1" height="24" fill="#c0c0c0"/>
<rect x="863" y="598" width="1" height="24" fill="#c0c0c0"/>
<rect x="871" y="599" width="1" height="23" fill="#c0c0c0"/>
<rect x="879" y="599" width="1" height="23" fill="#c0c0c0"/>
<rect x="887" y="602" width="1" height="20" fill="#c0c0c0"/>
<rect x="895" y="604" width="1" height="18" fill="#c0c0c0"/>
<rect x="903" y="603" width="1" height="19" fill="#c0c0c0"/>
<rect x="911" y="593" width="1" height="29" fill="#c0c0c0"/>
<rect x="919" y="586" width="1" height="36" fill="#c0c0c0"/>
<rect x="927" y="581" width="1" height="41" fill="#c0c0c0"/>
<rect x="935" y="578" width="1" height="44" fill="#c0c0c0"/>
<rect x="943" y="578" width="1" height="44" fill="#c0c0c0"/>
<rect x="951" y="576" width="1" height="46" fill="#c0c0c0"/>
<rect x="959" y="587" width="1" height="35" fill="#c0c0c0"/>
<rect x="967" y="594" width="1" height="28" fill="#c0c0c0"/>
<rect x="975" y="607" width="1" height="15" fill="#c0c0c0"/>
<rect x="983" y="610" width="1" height="12" fill="#c0c0c0"/>
<rect x="991" y="611" width="1" height="11" fill="#c0c0c0"/>
<rect x="999" y="611" width="1" height="11" fill="#c0c0c0"/>
<rect x="1007" y="611" width="1" height="11" fill="#c0c0c0"/>
<rect x="1015" y="610" width="1" height="12" fill="#c0c0c0"/>
<rect x="1023" y="612" width="1" height="10" fill="#c0c0c0"/>
<rect x="1031" y="618" width="1" height="4" fill="#c0c0c0"/>
<rect x="1039" y="617" width="1" height="5" fill="#c0c0c0"/>
<rect x="1047" y="614" width="1" height="8" fill="#c0c0c0"/>
<rect x="1055" y="611" width="1" height="11" fill="#c0c0c0"/>
<rect x="1063" y="609" width="1" height="13" fill="#c0c0c0"/>
<rect x="1071" y="608" width="1" height="14" fill="#c0c0c0"/>
<rect x="1079" y="607" width="1" height="15" fill="#c0c0c0"/>
<rect x="1087" y="610" width="1" height="12" fill="#c0c0c0"/>
<rect x="1095" y="616" width="1" height="6" fill="#c0c0c0"/>
<rect x="1103" y="616" width="1" height="6" fill="#c0c0c0"/>
<rect x="1111" y="616" width="1" height="6" fill="#c0c0c0"/>
<rect x="1119" y="617" width="1" height="5" fill="#c0c0c0"/>
<rect x="1127" y="620" width="1" height="2" fill="#c0c0c0"/>
<rect x="1135" y="620" width="1" height="2" fill="#c0c0c0"/>
<rect x="1143" y="620" width="1" height="2" fill="#c0c0c0"/>
<rect x="1151" y="617" width="1" height="5" fill="#c0c0c0"/>
<rect x="1159" y="617" width="1" height="5" fill="#c0c0c0"/>
<rect x="1167" y="617" width="1" height="5" fill="#c0c0c0"/>
<rect x="1175" y="617" width="1" height="5" fill="#c0c0c0"/>
<rect x="1183" y="617" width="1" height="5" fill="#c0c0c0"/>
<rect x="1191" y="617" width="1" height="5" fill="#c0c0c0"/>
<rect x="1199" y="620" width="1" height="2" fill="#c0c0c0"/>
<rect x="1207" y="621" width="1" height="5" fill="#c0c0c0"/>
<rect x="1215" y="621" width="1" height="8" fill="#c0c0c0"/>
<rect x="1223" y="621" width="1" height="12" fill="#c0c0c0"/>
<rect x="1231" y="621" width="1" height="16" fill="#c0c0c0"/>
<rect x="1239" y="621" width="1" height="23" fill="#c0c0c0"/>
<rect x="1247" y="621" width="1" height="31" fill="#c0c0c0"/>
<rect x="1255" y="621" width="1" height="37" fill="#c0c0c0"/>
<rect x="1263" y="621" width="1" height="42" fill="#c0c0c0"/>
<rect x="1271" y="621" width="1" height="47" fill="#c0c0c0"/>
<rect x="1279" y="621" width="1" height="59" fill="#c0c0c0"/>
<rect x="1287" y="621" width="1" height="62" fill="#c0c0c0"/>
<rect x="1295" y="621" width="1" height="60" fill="#c0c0c0"/>
<rect x="1303" y="621" width="1" height="57" fill="#c0c0c0"/>
<rect x="1311" y="621" width="1" height="53" fill="#c0c0c0"/>
<rect x="1319" y="621" width="1" height="51" fill="#c0c0c0"/>
<polyline points="0.0,608.5 13.4,608.5 28.9,613.4 40.0,618.3 53.4,627.9 71.2,645.7 89.0,663.5 106.8,684.6 120.2,695.7 133.5,703.5 151.3,705.7 169.1,700.6 182.5,696.2 200.3,692.6 209.2,693.0 222.5,699.0 235.9,708.0 249.2,719.1 262.6,731.3 275.9,741.4 289.3,745.8 307.1,747.4 320.4,744.2 332.2,738.0 352.3,723.6 374.5,705.0 396.8,694.6 423.5,686.4 450.2,677.5 471.3,673.5 485.8,675.7 508.0,684.6 530.3,694.6 543.6,698.4 559.2,700.2 574.8,696.2 588.1,686.8 605.9,671.3 623.7,654.6 641.5,642.8 654.9,638.3 662.2,635.7 673.4,631.7 688.9,628.5 704.5,620.5 722.3,611.6 740.1,601.8 760.1,594.5 775.7,587.8 793.5,585.6 806.9,586.3 822.4,589.4 838.0,591.2 851.4,593.8 869.2,597.4 891.4,597.8 909.2,598.3 927.0,595.2 944.8,591.2 967.1,585.6 980.4,587.1 993.8,590.7 1012.3,599.6 1034.5,610.0 1047.9,612.3 1079.0,611.6 1119.1,611.6 1145.8,615.6 1163.6,617.9 1199.2,617.4 1225.9,620.5 1239.2,626.3 1257.0,635.7 1272.6,645.7 1286.0,656.1 1297.1,663.5 1310.4,669.5 1319.3,672.4" fill="none" stroke="#ff0000" stroke-width="1" stroke-dasharray="3,3"/>
</g>
<g clip-path="url(#cRsi)">
<line x1="0" y1="800.5" x2="1627" y2="800.5" stroke="#c0c0c0" stroke-width="1" stroke-dasharray="3,3"/>
<line x1="0" y1="847.5" x2="1627" y2="847.5" stroke="#c0c0c0" stroke-width="1" stroke-dasharray="3,3"/>
<line x1="0" y1="903.5" x2="1627" y2="903.5" stroke="#c0c0c0" stroke-width="1" stroke-dasharray="3,3"/>
<polyline points="0.0,858.5 7.0,859.5 15.0,863.5 23.0,869.6 31.0,874.7 39.0,882.8 47.0,891.0 55.0,894.4 63.0,893.6 71.0,902.1 79.0,899.5 87.0,900.5 95.0,901.3 103.0,899.5 111.0,900.5 119.0,900.5 127.0,894.0 135.0,887.5 143.0,864.6 151.0,872.3 159.0,874.1 167.0,866.6 175.0,871.7 183.0,875.7 191.0,883.4 199.0,896.0 207.0,897.7 215.0,902.1 223.0,894.4 231.0,895.6 239.0,897.7 247.0,890.4 255.0,891.6 263.0,897.7 271.0,900.5 279.0,880.2 287.0,880.6 295.0,881.8 303.0,886.3 311.0,861.5 319.0,860.5 327.0,857.0 335.0,861.5 343.0,857.5 351.0,859.5 359.0,866.6 367.0,860.5 375.0,869.2 383.0,871.3 391.0,860.5 399.0,861.9 407.0,854.4 415.0,855.4 423.0,861.9 431.0,861.9 439.0,861.9 447.0,864.0 455.0,861.9 463.0,864.0 471.0,876.1 479.0,882.2 487.0,881.4 495.0,886.9 503.0,881.8 511.0,872.7 519.0,875.3 527.0,870.7 535.0,871.7 543.0,867.6 551.0,868.6 559.0,873.7 567.0,866.0 575.0,836.7 583.0,836.7 591.0,837.5 599.0,845.3 607.0,842.8 615.0,854.4 623.0,855.4 631.0,854.4 639.0,854.4 647.0,855.4 655.0,841.6 663.0,833.5 671.0,838.8 679.0,840.8 687.0,844.3 695.0,842.2 703.0,836.7 711.0,825.4 719.0,828.0 727.0,829.4 735.0,825.4 743.0,829.0 751.0,833.5 759.0,832.1 767.0,831.5 775.0,828.6 783.0,833.5 791.0,831.5 799.0,849.3 807.0,855.0 815.0,837.5 823.0,837.5 831.0,837.5 839.0,832.7 847.0,838.2 855.0,841.2 863.0,837.5 871.0,838.8 879.0,838.8 887.0,845.7 895.0,843.2 903.0,834.1 911.0,817.8 919.0,816.4 927.0,816.4 935.0,819.3 943.0,828.0 951.0,821.9 959.0,855.8 967.0,850.3 975.0,863.1 983.0,848.3 991.0,845.7 999.0,844.3 1007.0,844.3 1015.0,843.2 1023.0,847.3 1031.0,855.8 1039.0,845.3 1047.0,842.2 1055.0,838.8 1063.0,840.2 1071.0,841.2 1079.0,840.2 1087.0,847.3 1095.0,857.9 1103.0,845.3 1111.0,846.3 1119.0,846.9 1127.0,854.4 1135.0,851.4 1143.0,841.2 1151.0,840.2 1159.0,843.6 1167.0,845.3 1175.0,846.3 1183.0,845.3 1191.0,848.9 1199.0,855.4 1207.0,859.9 1215.0,861.9 1223.0,861.5 1231.0,865.6 1239.0,874.7 1247.0,880.8 1255.0,881.4 1263.0,880.2 1271.0,883.9 1279.0,896.0 1287.0,874.7 1295.0,864.0 1303.0,860.5 1311.0,861.1 1319.0,861.5" fill="none" stroke="#1e90ff" stroke-width="1"/>
</g>
<rect x="0" y="27" width="1628" height="1" fill="#000"/>
<rect x="1627" y="27" width="1" height="536" fill="#000"/>
<rect x="0" y="562" width="1628" height="1" fill="#000"/>
<rect x="0" y="564" width="1628" height="1" fill="#000"/>
<rect x="1627" y="564" width="1" height="202" fill="#000"/>
<rect x="0" y="765" width="1628" height="1" fill="#000"/>
<rect x="0" y="767" width="1628" height="1" fill="#000"/>
<rect x="1627" y="767" width="1" height="161" fill="#000"/>
<rect x="0" y="927" width="1628" height="1" fill="#000"/>
<rect x="1628" y="31" width="2" height="1" fill="#000"/>
<text transform="translate(1633.2,35) scale(0.915,1)" font-family='"Liberation Sans", Arial, sans-serif' font-size="10" fill="#000" stroke="#000" stroke-width="0.12" shape-rendering="auto">135.625</text>
<rect x="1628" y="64" width="2" height="1" fill="#000"/>
<text transform="translate(1633.2,68) scale(0.915,1)" font-family='"Liberation Sans", Arial, sans-serif' font-size="10" fill="#000" stroke="#000" stroke-width="0.12" shape-rendering="auto">135.040</text>
<rect x="1628" y="97" width="2" height="1" fill="#000"/>
<text transform="translate(1633.2,101) scale(0.915,1)" font-family='"Liberation Sans", Arial, sans-serif' font-size="10" fill="#000" stroke="#000" stroke-width="0.12" shape-rendering="auto">134.470</text>
<rect x="1628" y="130" width="2" height="1" fill="#000"/>
<text transform="translate(1633.2,134) scale(0.915,1)" font-family='"Liberation Sans", Arial, sans-serif' font-size="10" fill="#000" stroke="#000" stroke-width="0.12" shape-rendering="auto">133.885</text>
<rect x="1628" y="163" width="2" height="1" fill="#000"/>
<text transform="translate(1633.2,167) scale(0.915,1)" font-family='"Liberation Sans", Arial, sans-serif' font-size="10" fill="#000" stroke="#000" stroke-width="0.12" shape-rendering="auto">133.300</text>
<rect x="1628" y="196" width="2" height="1" fill="#000"/>
<text transform="translate(1633.2,200) scale(0.915,1)" font-family='"Liberation Sans", Arial, sans-serif' font-size="10" fill="#000" stroke="#000" stroke-width="0.12" shape-rendering="auto">132.730</text>
<rect x="1628" y="229" width="2" height="1" fill="#000"/>
<text transform="translate(1633.2,233) scale(0.915,1)" font-family='"Liberation Sans", Arial, sans-serif' font-size="10" fill="#000" stroke="#000" stroke-width="0.12" shape-rendering="auto">132.145</text>
<rect x="1628" y="262" width="2" height="1" fill="#000"/>
<text transform="translate(1633.2,266) scale(0.915,1)" font-family='"Liberation Sans", Arial, sans-serif' font-size="10" fill="#000" stroke="#000" stroke-width="0.12" shape-rendering="auto">131.575</text>
<rect x="1628" y="295" width="2" height="1" fill="#000"/>
<text transform="translate(1633.2,299) scale(0.915,1)" font-family='"Liberation Sans", Arial, sans-serif' font-size="10" fill="#000" stroke="#000" stroke-width="0.12" shape-rendering="auto">130.990</text>
<rect x="1628" y="328" width="2" height="1" fill="#000"/>
<text transform="translate(1633.2,332) scale(0.915,1)" font-family='"Liberation Sans", Arial, sans-serif' font-size="10" fill="#000" stroke="#000" stroke-width="0.12" shape-rendering="auto">130.405</text>
<rect x="1628" y="361" width="2" height="1" fill="#000"/>
<text transform="translate(1633.2,365) scale(0.915,1)" font-family='"Liberation Sans", Arial, sans-serif' font-size="10" fill="#000" stroke="#000" stroke-width="0.12" shape-rendering="auto">129.835</text>
<rect x="1628" y="394" width="2" height="1" fill="#000"/>
<text transform="translate(1633.2,398) scale(0.915,1)" font-family='"Liberation Sans", Arial, sans-serif' font-size="10" fill="#000" stroke="#000" stroke-width="0.12" shape-rendering="auto">129.250</text>
<rect x="1628" y="427" width="2" height="1" fill="#000"/>
<text transform="translate(1633.2,431) scale(0.915,1)" font-family='"Liberation Sans", Arial, sans-serif' font-size="10" fill="#000" stroke="#000" stroke-width="0.12" shape-rendering="auto">128.665</text>
<rect x="1628" y="460" width="2" height="1" fill="#000"/>
<text transform="translate(1633.2,464) scale(0.915,1)" font-family='"Liberation Sans", Arial, sans-serif' font-size="10" fill="#000" stroke="#000" stroke-width="0.12" shape-rendering="auto">128.080</text>
<rect x="1628" y="493" width="2" height="1" fill="#000"/>
<text transform="translate(1633.2,497) scale(0.915,1)" font-family='"Liberation Sans", Arial, sans-serif' font-size="10" fill="#000" stroke="#000" stroke-width="0.12" shape-rendering="auto">127.510</text>
<rect x="1628" y="526" width="2" height="1" fill="#000"/>
<text transform="translate(1633.2,530) scale(0.915,1)" font-family='"Liberation Sans", Arial, sans-serif' font-size="10" fill="#000" stroke="#000" stroke-width="0.12" shape-rendering="auto">126.925</text>
<rect x="1628" y="559" width="2" height="1" fill="#000"/>
<text transform="translate(1633.2,563) scale(0.915,1)" font-family='"Liberation Sans", Arial, sans-serif' font-size="10" fill="#000" stroke="#000" stroke-width="0.12" shape-rendering="auto">126.355</text>
<rect x="1628" y="384" width="2" height="2" fill="#ff0000"/>
<rect x="1629" y="379" width="41" height="11" fill="#ff0000"/>
<text transform="translate(1633.2,388) scale(0.915,1)" font-family='"Liberation Sans", Arial, sans-serif' font-size="10" fill="#fff" shape-rendering="auto">129.416</text>
<rect x="1628" y="410" width="2" height="2" fill="#ff4500"/>
<rect x="1629" y="405" width="41" height="11" fill="#ff4500"/>
<text transform="translate(1633.2,414) scale(0.915,1)" font-family='"Liberation Sans", Arial, sans-serif' font-size="10" fill="#fff" shape-rendering="auto">128.956</text>
<rect x="1628" y="434" width="2" height="2" fill="#32cd32"/>
<rect x="1629" y="429" width="41" height="11" fill="#32cd32"/>
<text transform="translate(1633.2,438) scale(0.915,1)" font-family='"Liberation Sans", Arial, sans-serif' font-size="10" fill="#fff" shape-rendering="auto">128.534</text>
<rect x="1628" y="462" width="2" height="1" fill="#c0c0c0"/>
<rect x="1629" y="457" width="41" height="11" fill="#000000"/>
<text transform="translate(1633.2,466) scale(0.915,1)" font-family='"Liberation Sans", Arial, sans-serif' font-size="10" fill="#fff" shape-rendering="auto">128.054</text>
<rect x="1628" y="495" width="2" height="2" fill="#0000ff"/>
<rect x="1629" y="490" width="41" height="11" fill="#0000ff"/>
<text transform="translate(1633.2,499) scale(0.915,1)" font-family='"Liberation Sans", Arial, sans-serif' font-size="10" fill="#fff" shape-rendering="auto">127.467</text>
<rect x="1628" y="533" width="2" height="2" fill="#0000ff"/>
<rect x="1629" y="528" width="41" height="11" fill="#0000ff"/>
<text transform="translate(1633.2,537) scale(0.915,1)" font-family='"Liberation Sans", Arial, sans-serif' font-size="10" fill="#fff" shape-rendering="auto">126.787</text>
<rect x="1628" y="566" width="2" height="1" fill="#000"/>
<text transform="translate(1630.6,575) scale(0.915,1)" font-family='"Liberation Sans", Arial, sans-serif' font-size="10" fill="#000" stroke="#000" stroke-width="0.12" shape-rendering="auto">0.4714</text>
<rect x="1628" y="621" width="2" height="1" fill="#000"/>
<text transform="translate(1630.6,625) scale(0.915,1)" font-family='"Liberation Sans", Arial, sans-serif' font-size="10" fill="#000" stroke="#000" stroke-width="0.12" shape-rendering="auto">0.00</text>
<rect x="1628" y="764" width="2" height="1" fill="#000"/>
<text transform="translate(1630.6,762) scale(0.915,1)" font-family='"Liberation Sans", Arial, sans-serif' font-size="10" fill="#000" stroke="#000" stroke-width="0.12" shape-rendering="auto">-1.2234</text>
<rect x="1628" y="769" width="2" height="1" fill="#000"/>
<text transform="translate(1630.6,778) scale(0.915,1)" font-family='"Liberation Sans", Arial, sans-serif' font-size="10" fill="#000" stroke="#000" stroke-width="0.12" shape-rendering="auto">100</text>
<rect x="1628" y="800" width="2" height="1" fill="#000"/>
<text transform="translate(1630.6,804) scale(0.915,1)" font-family='"Liberation Sans", Arial, sans-serif' font-size="10" fill="#000" stroke="#000" stroke-width="0.12" shape-rendering="auto">80</text>
<rect x="1628" y="847" width="2" height="1" fill="#000"/>
<text transform="translate(1630.6,851) scale(0.915,1)" font-family='"Liberation Sans", Arial, sans-serif' font-size="10" fill="#000" stroke="#000" stroke-width="0.12" shape-rendering="auto">50</text>
<rect x="1628" y="903" width="2" height="1" fill="#000"/>
<text transform="translate(1630.6,907) scale(0.915,1)" font-family='"Liberation Sans", Arial, sans-serif' font-size="10" fill="#000" stroke="#000" stroke-width="0.12" shape-rendering="auto">15</text>
<rect x="1628" y="926" width="2" height="1" fill="#000"/>
<text transform="translate(1630.6,924) scale(0.915,1)" font-family='"Liberation Sans", Arial, sans-serif' font-size="10" fill="#000" stroke="#000" stroke-width="0.12" shape-rendering="auto">0</text>
<text x="-1.3" y="940" font-family='"Liberation Sans", Arial, sans-serif' font-size="9.4" fill="#000" stroke="#000" stroke-width="0.12" shape-rendering="auto">26 Jul 2019</text>
<rect x="63" y="928" width="1" height="3" fill="#000"/>
<text x="61.7" y="940" font-family='"Liberation Sans", Arial, sans-serif' font-size="9.4" fill="#000" stroke="#000" stroke-width="0.12" shape-rendering="auto">29 Jul 20:00</text>
<rect x="127" y="928" width="1" height="3" fill="#000"/>
<text x="125.7" y="940" font-family='"Liberation Sans", Arial, sans-serif' font-size="9.4" fill="#000" stroke="#000" stroke-width="0.12" shape-rendering="auto">31 Jul 04:00</text>
<rect x="191" y="928" width="1" height="3" fill="#000"/>
<text x="189.7" y="940" font-family='"Liberation Sans", Arial, sans-serif' font-size="9.4" fill="#000" stroke="#000" stroke-width="0.12" shape-rendering="auto">1 Aug 12:00</text>
<rect x="255" y="928" width="1" height="3" fill="#000"/>
<text x="253.7" y="940" font-family='"Liberation Sans", Arial, sans-serif' font-size="9.4" fill="#000" stroke="#000" stroke-width="0.12" shape-rendering="auto">4 Aug 23:00</text>
<rect x="319" y="928" width="1" height="3" fill="#000"/>
<text x="317.7" y="940" font-family='"Liberation Sans", Arial, sans-serif' font-size="9.4" fill="#000" stroke="#000" stroke-width="0.12" shape-rendering="auto">6 Aug 04:00</text>
<rect x="383" y="928" width="1" height="3" fill="#000"/>
<text x="381.7" y="940" font-family='"Liberation Sans", Arial, sans-serif' font-size="9.4" fill="#000" stroke="#000" stroke-width="0.12" shape-rendering="auto">7 Aug 12:00</text>
<rect x="447" y="928" width="1" height="3" fill="#000"/>
<text x="445.7" y="940" font-family='"Liberation Sans", Arial, sans-serif' font-size="9.4" fill="#000" stroke="#000" stroke-width="0.12" shape-rendering="auto">8 Aug 20:00</text>
<rect x="511" y="928" width="1" height="3" fill="#000"/>
<text x="509.7" y="940" font-family='"Liberation Sans", Arial, sans-serif' font-size="9.4" fill="#000" stroke="#000" stroke-width="0.12" shape-rendering="auto">12 Aug 04:00</text>
<rect x="575" y="928" width="1" height="3" fill="#000"/>
<text x="573.7" y="940" font-family='"Liberation Sans", Arial, sans-serif' font-size="9.4" fill="#000" stroke="#000" stroke-width="0.12" shape-rendering="auto">13 Aug 12:00</text>
<rect x="639" y="928" width="1" height="3" fill="#000"/>
<text x="637.7" y="940" font-family='"Liberation Sans", Arial, sans-serif' font-size="9.4" fill="#000" stroke="#000" stroke-width="0.12" shape-rendering="auto">14 Aug 20:00</text>
<rect x="703" y="928" width="1" height="3" fill="#000"/>
<text x="701.7" y="940" font-family='"Liberation Sans", Arial, sans-serif' font-size="9.4" fill="#000" stroke="#000" stroke-width="0.12" shape-rendering="auto">16 Aug 04:00</text>
<rect x="767" y="928" width="1" height="3" fill="#000"/>
<text x="765.7" y="940" font-family='"Liberation Sans", Arial, sans-serif' font-size="9.4" fill="#000" stroke="#000" stroke-width="0.12" shape-rendering="auto">19 Aug 12:00</text>
<rect x="831" y="928" width="1" height="3" fill="#000"/>
<text x="829.7" y="940" font-family='"Liberation Sans", Arial, sans-serif' font-size="9.4" fill="#000" stroke="#000" stroke-width="0.12" shape-rendering="auto">20 Aug 20:00</text>
<rect x="895" y="928" width="1" height="3" fill="#000"/>
<text x="893.7" y="940" font-family='"Liberation Sans", Arial, sans-serif' font-size="9.4" fill="#000" stroke="#000" stroke-width="0.12" shape-rendering="auto">22 Aug 04:00</text>
<rect x="959" y="928" width="1" height="3" fill="#000"/>
<text x="957.7" y="940" font-family='"Liberation Sans", Arial, sans-serif' font-size="9.4" fill="#000" stroke="#000" stroke-width="0.12" shape-rendering="auto">23 Aug 12:00</text>
<rect x="1023" y="928" width="1" height="3" fill="#000"/>
<text x="1021.7" y="940" font-family='"Liberation Sans", Arial, sans-serif' font-size="9.4" fill="#000" stroke="#000" stroke-width="0.12" shape-rendering="auto">26 Aug 20:00</text>
<rect x="1087" y="928" width="1" height="3" fill="#000"/>
<text x="1085.7" y="940" font-family='"Liberation Sans", Arial, sans-serif' font-size="9.4" fill="#000" stroke="#000" stroke-width="0.12" shape-rendering="auto">28 Aug 04:00</text>
<rect x="1151" y="928" width="1" height="3" fill="#000"/>
<text x="1149.7" y="940" font-family='"Liberation Sans", Arial, sans-serif' font-size="9.4" fill="#000" stroke="#000" stroke-width="0.12" shape-rendering="auto">29 Aug 12:00</text>
<rect x="1215" y="928" width="1" height="3" fill="#000"/>
<text x="1213.7" y="940" font-family='"Liberation Sans", Arial, sans-serif' font-size="9.4" fill="#000" stroke="#000" stroke-width="0.12" shape-rendering="auto">1 Sep 23:00</text>
<rect x="1279" y="928" width="1" height="3" fill="#000"/>
<text x="1277.7" y="940" font-family='"Liberation Sans", Arial, sans-serif' font-size="9.4" fill="#000" stroke="#000" stroke-width="0.12" shape-rendering="auto">3 Sep 04:00</text>
<text x="14.5" y="37.6" font-family='"Liberation Sans", Arial, sans-serif' font-size="9.2" fill="#000" stroke="#000" stroke-width="0.15" shape-rendering="auto" xml:space="preserve">GBPJPY-,H4  128.007 128.087 128.001 128.054</text>
<polygon points="2,38 9,38 5.5,34" fill="#000"/>
<text x="3" y="576.6" font-family='"Liberation Sans", Arial, sans-serif' font-size="9.2" fill="#000" stroke="#000" stroke-width="0.15" shape-rendering="auto" letter-spacing="0.08">MACD(12,26,9) -0.4230 -0.4352</text>
<text x="3" y="779.8" font-family='"Liberation Sans", Arial, sans-serif' font-size="9.2" fill="#000" stroke="#000" stroke-width="0.15" shape-rendering="auto" letter-spacing="0.08">RSI(14) 41.3586</text>
<rect x="1673" y="25" width="1" height="919" fill="#f0f0f0"/>
<rect x="0" y="0" width="1674" height="23" fill="#f0f0f0"/>
<rect x="0" y="23" width="1674" height="1" fill="#a0a0a0"/>
<rect x="0" y="24" width="1674" height="1" fill="#666666"/>
<rect x="0" y="25" width="1674" height="2" fill="#ffffff"/>
<defs><pattern id="chk" width="2" height="2" patternUnits="userSpaceOnUse"><rect width="1" height="1" fill="#ffffff"/><rect x="1" y="1" width="1" height="1" fill="#ffffff"/></pattern><linearGradient id="gplus" x1="0" y1="0" x2="0" y2="1"><stop offset="0" stop-color="#6df27a"/><stop offset="1" stop-color="#0fbf26"/></linearGradient><linearGradient id="gold" x1="0" y1="0" x2="1" y2="1"><stop offset="0" stop-color="#f7dc5a"/><stop offset="1" stop-color="#c98a12"/></linearGradient><linearGradient id="gcand" x1="0" y1="0" x2="1" y2="0"><stop offset="0" stop-color="#1fc73a"/><stop offset=".5" stop-color="#8ff59b"/><stop offset="1" stop-color="#1fc73a"/></linearGradient><radialGradient id="lens" cx=".4" cy=".35" r=".7"><stop offset="0" stop-color="#ffffff"/><stop offset="1" stop-color="#bfe3fb"/></radialGradient><linearGradient id="cloud" x1="0" y1="0" x2="0" y2="1"><stop offset="0" stop-color="#ffffff"/><stop offset="1" stop-color="#c9d3e6"/></linearGradient></defs><g shape-rendering="auto"><path d="M-1.5,3.5 H7.5 L9.5,5.5 V16.5 H-1.5 Z" fill="#fff" stroke="#8a8a8a" stroke-width="1"/><rect x="0" y="5.5" width="3" height="1" fill="#8a8a8a"/><rect x="0" y="11" width="5" height="1" fill="#9a9a9a"/><path d="M6.5,9.5 H9.5 V13.5 H13.5 V16.5 H9.5 V20.5 H6.5 V16.5 H2.5 V13.5 H6.5 Z" fill="url(#gplus)" stroke="#0a9a1a" stroke-width="1"/></g><text x="17" y="14" font-family='"Liberation Sans", "Noto Sans CJK SC", sans-serif' font-size="12" fill="#000">新订单</text><g shape-rendering="auto"><path d="M65.5,12.2 L71.2,4.6 L80.6,10.2 L80.8,12.4 L75,18.6 L65.6,13.6 Z" fill="#c88a18" stroke="#9a6408" stroke-width="0.8"/><path d="M65.8,12.2 L71.2,4.8 L80.2,10.3 L74.8,17 Z" fill="url(#gold)"/></g><g shape-rendering="auto"><rect x="95.5" y="3.5" width="10" height="9" fill="#2b9af3" stroke="#1a78d0" stroke-width="1"/><path d="M96,4 L98.5,5.5 L98.5,12 L96,12 Z" fill="#8cd0ff"/><rect x="98.5" y="5.5" width="7" height="1" fill="#1a78d0"/><rect x="100" y="8" width="4.5" height="1.2" fill="#e8f4ff"/><path d="M95,18.5 C92.6,18.5 92.6,15 95.2,14.8 C95.4,13 97.6,12.6 98.6,13.6 C99.2,11 104.6,10.8 105.2,13.8 C108.6,13.4 109.6,18.5 106.6,18.5 Z" fill="url(#cloud)" stroke="#5868a0" stroke-width="0.9"/></g><g shape-rendering="auto" fill="none"><circle cx="129" cy="11" r="7.5" stroke="#7aa8e0" stroke-width="1"/><circle cx="129" cy="11" r="5" stroke="#8fb5e6" stroke-width="1"/><path d="M129,3.5 A7.5,7.5 0 0 1 129,18.5" stroke="#6ec070" stroke-width="1.4"/><path d="M129,6 A5,5 0 0 1 129,16" stroke="#9ad49a" stroke-width="1.2"/><circle cx="129" cy="10.5" r="1.7" fill="#1b5fd0"/><line x1="129.6" y1="11" x2="129.6" y2="18.6" stroke="#1aa82a" stroke-width="1.2"/></g><g shape-rendering="auto"><path d="M149.2,9.6 L164.3,9.6 L157.2,18.6 Z" fill="#f8e45a" stroke="#c8a21a" stroke-width="0.8"/><ellipse cx="156" cy="8" rx="8" ry="2.6" fill="#4aa6e0" stroke="#2a7ab8" stroke-width="0.8"/><ellipse cx="156" cy="6" rx="4" ry="3" fill="#6bbcf0" stroke="#2a7ab8" stroke-width="0.8"/><circle cx="160.5" cy="14.6" r="4.1" fill="#e0200a" stroke="#a81000" stroke-width="0.8"/><rect x="159" y="13.1" width="3" height="3" fill="#fff"/></g><text x="170" y="14.5" font-family='"Liberation Sans", "Noto Sans CJK SC", sans-serif' font-size="11.5" fill="#000">自动交易</text><rect x="224" y="0" width="1" height="21" fill="#a0a0a0"/><rect x="225" y="0" width="1" height="21" fill="#ffffff"/><rect x="228" y="1" width="3" height="1" fill="#a8a8a8"/><rect x="228" y="3" width="3" height="1" fill="#a8a8a8"/><rect x="228" y="5" width="3" height="1" fill="#a8a8a8"/><rect x="228" y="7" width="3" height="1" fill="#a8a8a8"/><rect x="228" y="9" width="3" height="1" fill="#a8a8a8"/><rect x="228" y="11" width="3" height="1" fill="#a8a8a8"/><rect x="228" y="13" width="3" height="1" fill="#a8a8a8"/><rect x="228" y="15" width="3" height="1" fill="#a8a8a8"/><rect x="228" y="17" width="3" height="1" fill="#a8a8a8"/><rect x="228" y="19" width="3" height="1" fill="#a8a8a8"/><g shape-rendering="auto" stroke="#545454" stroke-width="1.1" fill="none"><line x1="242.5" y1="5.5" x2="242.5" y2="18.8"/><line x1="240" y1="16.5" x2="253.5" y2="16.5"/><polyline points="240.9,7.2 242.5,5.4 244.1,7.2"/><polyline points="251.8,14.9 253.6,16.5 251.8,18.1"/></g><g stroke="#0a8a0a" stroke-width="1.3" fill="none" shape-rendering="auto"><line x1="248.5" y1="6" x2="248.5" y2="14.5"/><line x1="246" y1="13.4" x2="248.5" y2="13.4"/><line x1="248.5" y1="7.4" x2="251.2" y2="7.4"/></g><rect x="262" y="0" width="1" height="21" fill="#a0a0a0"/><rect x="263" y="0" width="1" height="21" fill="#ffffff"/><rect x="264" y="1" width="23" height="20" fill="#f7f7f7"/><rect x="264" y="1" width="23" height="20" fill="url(#chk)"/><g shape-rendering="auto" stroke="#545454" stroke-width="1.1" fill="none"><line x1="270.4" y1="5.5" x2="270.4" y2="18.8"/><line x1="268" y1="16.5" x2="281.5" y2="16.5"/><polyline points="268.79999999999995,7.2 270.4,5.4 272.0,7.2"/><polyline points="279.8,14.9 281.6,16.5 279.8,18.1"/></g><g shape-rendering="auto"><line x1="276.6" y1="3" x2="276.6" y2="14.8" stroke="#0a8a0a" stroke-width="1.2"/><rect x="274.5" y="5.5" width="4.3" height="7.4" fill="url(#gcand)" stroke="#0a8a0a" stroke-width="1"/></g><g shape-rendering="auto" stroke="#545454" stroke-width="1.1" fill="none"><line x1="298.4" y1="5.5" x2="298.4" y2="18.8"/><line x1="296" y1="16.5" x2="309.5" y2="16.5"/><polyline points="296.79999999999995,7.2 298.4,5.4 300.0,7.2"/><polyline points="307.8,14.9 309.6,16.5 307.8,18.1"/></g><path d="M297.2,13.6 C299.5,11 301.5,7.8 303.4,8.2 C305.2,8.6 306.5,11.5 308.8,12.2" fill="none" stroke="#2a9a2a" stroke-width="1.1" shape-rendering="auto"/><rect x="319" y="0" width="1" height="21" fill="#a0a0a0"/><rect x="320" y="0" width="1" height="21" fill="#ffffff"/><g shape-rendering="auto"><line x1="337.8" y1="12.8" x2="342.6" y2="17.6" stroke="#b07a10" stroke-width="3.4" stroke-linecap="square"/><line x1="337.8" y1="12.8" x2="342.6" y2="17.6" stroke="#f2d84a" stroke-width="1.8" stroke-linecap="square"/><circle cx="334" cy="8.9" r="5.4" fill="url(#lens)" stroke="#3a7cc4" stroke-width="1.1"/><rect x="330.7" y="8" width="6.6" height="1.9" fill="#4a86b8"/><rect x="333.05" y="5.6" width="1.9" height="6.6" fill="#4a86b8"/></g><g shape-rendering="auto"><line x1="365.8" y1="12.8" x2="370.6" y2="17.6" stroke="#b07a10" stroke-width="3.4" stroke-linecap="square"/><line x1="365.8" y1="12.8" x2="370.6" y2="17.6" stroke="#f2d84a" stroke-width="1.8" stroke-linecap="square"/><circle cx="362" cy="8.9" r="5.4" fill="url(#lens)" stroke="#3a7cc4" stroke-width="1.1"/><rect x="358.7" y="8" width="6.6" height="1.9" fill="#4a86b8"/></g><rect x="384" y="3" width="8" height="8" fill="#2f9a18"/><rect x="385" y="4" width="1" height="1" fill="#ffffff"/><rect x="385" y="6" width="6" height="3" fill="#ffffff"/><rect x="386" y="7" width="4" height="1" fill="#9ad88a"/><rect x="385" y="9" width="1" height="1" fill="#ffffff"/><rect x="390" y="9" width="1" height="1" fill="#ffffff"/><rect x="392" y="3" width="8" height="8" fill="#1f4fd0"/><rect x="393" y="4" width="1" height="1" fill="#ffffff"/><rect x="393" y="6" width="6" height="3" fill="#ffffff"/><rect x="394" y="7" width="4" height="1" fill="#8aa8f0"/><rect x="393" y="9" width="1" height="1" fill="#ffffff"/><rect x="398" y="9" width="1" height="1" fill="#ffffff"/><rect x="384" y="11" width="8" height="8" fill="#1f4fd0"/><rect x="385" y="12" width="1" height="1" fill="#ffffff"/><rect x="385" y="14" width="6" height="3" fill="#ffffff"/><rect x="386" y="15" width="4" height="1" fill="#8aa8f0"/><rect x="385" y="17" width="1" height="1" fill="#ffffff"/><rect x="390" y="17" width="1" height="1" fill="#ffffff"/><rect x="392" y="11" width="8" height="8" fill="#2f9a18"/><rect x="393" y="12" width="1" height="1" fill="#ffffff"/><rect x="393" y="14" width="6" height="3" fill="#ffffff"/><rect x="394" y="15" width="4" height="1" fill="#9ad88a"/><rect x="393" y="17" width="1" height="1" fill="#ffffff"/><rect x="398" y="17" width="1" height="1" fill="#ffffff"/><rect x="409" y="0" width="1" height="21" fill="#a0a0a0"/><rect x="410" y="0" width="1" height="21" fill="#ffffff"/><rect x="414" y="0" width="1" height="21" fill="#a0a0a0"/><rect x="415" y="0" width="1" height="21" fill="#ffffff"/><rect x="416" y="1" width="23" height="20" fill="#f7f7f7"/><rect x="416" y="1" width="23" height="20" fill="url(#chk)"/><g shape-rendering="auto" stroke="#545454" stroke-width="1.1" fill="none"><line x1="422.5" y1="5.5" x2="422.5" y2="18.8"/><line x1="420" y1="16.5" x2="433.5" y2="16.5"/><polyline points="420.9,7.2 422.5,5.4 424.1,7.2"/><polyline points="431.8,14.9 433.6,16.5 431.8,18.1"/></g><polygon points="427.5,7.5 431.2,10.7 427.5,14" fill="#9af0a0" stroke="#10a020" stroke-width="1.1" shape-rendering="auto"/><rect x="442" y="0" width="1" height="21" fill="#a0a0a0"/><rect x="443" y="0" width="1" height="21" fill="#ffffff"/><rect x="444" y="1" width="23" height="20" fill="#f7f7f7"/><rect x="444" y="1" width="23" height="20" fill="url(#chk)"/><g shape-rendering="auto" stroke="#545454" stroke-width="1.1" fill="none"><line x1="450.4" y1="5.5" x2="450.4" y2="18.8"/><line x1="448" y1="16.5" x2="461.5" y2="16.5"/><polyline points="448.79999999999995,7.2 450.4,5.4 452.0,7.2"/><polyline points="459.8,14.9 461.6,16.5 459.8,18.1"/></g><rect x="456" y="5" width="1.2" height="9.5" fill="#1f6fb0"/><g shape-rendering="auto"><polygon points="457.6,10.5 460.5,8 460.5,13" fill="#e05010"/><line x1="459.5" y1="10.5" x2="462.3" y2="10.5" stroke="#e05010" stroke-width="1.3"/></g><rect x="471" y="0" width="1" height="21" fill="#a0a0a0"/><rect x="472" y="0" width="1" height="21" fill="#ffffff"/><g shape-rendering="auto"><path d="M481.5,3.5 H490 L492.5,6 V16.5 H481.5 Z" fill="#fff" stroke="#8a8a8a" stroke-width="1"/><text x="482.5" y="13" font-family='"Liberation Serif",serif' font-style="italic" font-size="9" fill="#444">f</text><path d="M489,9.5 H492 V13.5 H496.5 V16.5 H492 V20.5 H489 V16.5 H485 V13.5 H489 Z" fill="url(#gplus)" stroke="#0a9a1a" stroke-width="1"/></g><polygon points="502.7,10 508.2,10 505.45,13" fill="#000"/><g shape-rendering="auto"><circle cx="527" cy="10.8" r="7.2" fill="#fff" stroke="#1670d0" stroke-width="2.2"/><circle cx="527" cy="10.8" r="8.1" fill="none" stroke="#0b4fa0" stroke-width="0.6"/><polyline points="526,6.5 526.3,11 529.5,11" fill="none" stroke="#111" stroke-width="1.1"/></g><polygon points="541.8,10 547.3,10 544.55,13" fill="#000"/><g shape-rendering="auto"><rect x="558.5" y="4.5" width="15.5" height="13.3" fill="#fff" stroke="#2a6cc0" stroke-width="1"/><rect x="559" y="5" width="14.5" height="2" fill="#3b82d4"/><rect x="559" y="11.3" width="14.5" height="1" fill="#3b82d4"/><polyline points="560,10.3 562,10.3 564,9 566,9.7 568,9.7 570.5,8.4" fill="none" stroke="#a02010" stroke-width="1"/><polyline points="560,15.6 562,14.6 564,15.6 566.5,13.4 569,15.6 570.5,15.6" fill="none" stroke="#10a020" stroke-width="1"/></g><polygon points="581,10 586.5,10 583.75,13" fill="#000"/><rect x="592" y="0" width="1" height="21" fill="#a0a0a0"/><rect x="593" y="0" width="1" height="21" fill="#ffffff"/><rect x="596" y="1" width="3" height="1" fill="#a8a8a8"/><rect x="596" y="3" width="3" height="1" fill="#a8a8a8"/><rect x="596" y="5" width="3" height="1" fill="#a8a8a8"/><rect x="596" y="7" width="3" height="1" fill="#a8a8a8"/><rect x="596" y="9" width="3" height="1" fill="#a8a8a8"/><rect x="596" y="11" width="3" height="1" fill="#a8a8a8"/><rect x="596" y="13" width="3" height="1" fill="#a8a8a8"/><rect x="596" y="15" width="3" height="1" fill="#a8a8a8"/><rect x="596" y="17" width="3" height="1" fill="#a8a8a8"/><rect x="596" y="19" width="3" height="1" fill="#a8a8a8"/><rect x="602" y="0" width="1" height="21" fill="#a0a0a0"/><rect x="603" y="0" width="1" height="21" fill="#ffffff"/><rect x="604" y="1" width="23" height="20" fill="#f7f7f7"/><rect x="604" y="1" width="23" height="20" fill="url(#chk)"/><path d="M610.5,4 L610.5,16 L613.2,13.4 L615.5,18.2 L617.4,17.2 L615.2,12.6 L618.6,12.4 Z" fill="#545454" shape-rendering="auto"/><rect x="642" y="4" width="1" height="15" fill="#545454"/><rect x="635" y="11" width="15" height="1" fill="#545454"/><rect x="642" y="11" width="1" height="1" fill="#f0f0f0"/><rect x="659" y="0" width="1" height="21" fill="#a0a0a0"/><rect x="660" y="0" width="1" height="21" fill="#ffffff"/><rect x="676" y="5" width="1.3" height="13" fill="#545454"/><rect x="699" y="11" width="12" height="1.3" fill="#545454"/><line x1="726.5" y1="17.5" x2="739" y2="5.5" stroke="#545454" stroke-width="1.2" shape-rendering="auto"/><g shape-rendering="auto" stroke="#505050" stroke-width="1.1" fill="none"><line x1="753" y1="13" x2="764" y2="3.8"/><line x1="754.5" y1="16.5" x2="766" y2="7"/><line x1="756" y1="10.5" x2="757" y2="15.5"/><line x1="759.5" y1="7.5" x2="760.5" y2="12.5"/><line x1="763" y1="4.5" x2="764" y2="9.5"/></g><text x="763.6" y="19.8" font-family='"Liberation Sans", Arial, sans-serif' font-weight="700" font-size="6.5" fill="#545454">E</text><line x1="782" y1="4.5" x2="796" y2="4.5" stroke="#545454" stroke-width="1" stroke-dasharray="1,1"/><line x1="782" y1="7.5" x2="796" y2="7.5" stroke="#545454" stroke-width="1" stroke-dasharray="1,1"/><line x1="782" y1="11.5" x2="796" y2="11.5" stroke="#545454" stroke-width="1" stroke-dasharray="1,1"/><line x1="782" y1="15.5" x2="791" y2="15.5" stroke="#545454" stroke-width="1" stroke-dasharray="1,1"/><text x="791.5" y="20" font-family='"Liberation Sans", Arial, sans-serif' font-weight="700" font-size="6.5" fill="#545454">F</text><text x="812.3" y="16.3" font-family='"Liberation Sans", Arial, sans-serif' font-weight="700" font-size="12.4" fill="#545454">A</text><rect x="838.5" y="4.5" width="12" height="13" fill="none" stroke="#545454" stroke-width="1" stroke-dasharray="1,1"/><text x="841" y="15.8" font-family='"Liberation Sans", Arial, sans-serif' font-weight="700" font-size="11" fill="#545454">T</text><g shape-rendering="auto"><polygon points="869,5.3 872,7.7 869,10 866,7.7" fill="#545454"/><polygon points="876.5,12.5 880,15 876.5,17.8 873,15" fill="#545454"/><polyline points="868.5,11.5 870.5,14 875,9.5" fill="none" stroke="#545454" stroke-width="1.3"/></g><polygon points="886.6,10 892.1,10 889.35,13" fill="#000"/><rect x="898" y="0" width="1" height="21" fill="#a0a0a0"/><rect x="899" y="0" width="1" height="21" fill="#ffffff"/><rect x="902" y="1" width="3" height="1" fill="#a8a8a8"/><rect x="902" y="3" width="3" height="1" fill="#a8a8a8"/><rect x="902" y="5" width="3" height="1" fill="#a8a8a8"/><rect x="902" y="7" width="3" height="1" fill="#a8a8a8"/><rect x="902" y="9" width="3" height="1" fill="#a8a8a8"/><rect x="902" y="11" width="3" height="1" fill="#a8a8a8"/><rect x="902" y="13" width="3" height="1" fill="#a8a8a8"/><rect x="902" y="15" width="3" height="1" fill="#a8a8a8"/><rect x="902" y="17" width="3" height="1" fill="#a8a8a8"/><rect x="902" y="19" width="3" height="1" fill="#a8a8a8"/><rect x="1048" y="0" width="1" height="21" fill="#a0a0a0"/><rect x="1049" y="0" width="1" height="21" fill="#ffffff"/><rect x="1050" y="1" width="23" height="20" fill="#f7f7f7"/><rect x="1050" y="1" width="23" height="20" fill="url(#chk)"/><text x="913.5" y="15.2" font-family='"Liberation Sans", Arial, sans-serif' font-size="9.6" fill="#3a3a3a">M1</text><text x="941.6" y="15.2" font-family='"Liberation Sans", Arial, sans-serif' font-size="9.6" fill="#3a3a3a">M5</text><text x="967.3000000000001" y="15.2" font-family='"Liberation Sans", Arial, sans-serif' font-size="9.6" fill="#3a3a3a">M15</text><text x="995.4" y="15.2" font-family='"Liberation Sans", Arial, sans-serif' font-size="9.6" fill="#3a3a3a">M30</text><text x="1026.3999999999999" y="15.2" font-family='"Liberation Sans", Arial, sans-serif' font-size="9.6" fill="#3a3a3a">H1</text><text x="1053.1" y="15.2" font-family='"Liberation Sans", Arial, sans-serif' font-size="9.6" fill="#3a3a3a">H4</text><text x="1082.3999999999999" y="15.2" font-family='"Liberation Sans", Arial, sans-serif' font-size="9.6" fill="#3a3a3a">D1</text><text x="1110.0" y="15.2" font-family='"Liberation Sans", Arial, sans-serif' font-size="9.6" fill="#3a3a3a">W1</text><text x="1136.1" y="15.2" font-family='"Liberation Sans", Arial, sans-serif' font-size="9.6" fill="#3a3a3a">MN</text><rect x="1159" y="0" width="1" height="21" fill="#a0a0a0"/><rect x="1160" y="0" width="1" height="21" fill="#ffffff"/><g shape-rendering="auto"><line x1="1626.6" y1="11.6" x2="1622.4" y2="15.6" stroke="#2a62c8" stroke-width="2.4" stroke-linecap="round"/><circle cx="1629.4" cy="8.4" r="3.5" fill="#fdfdff" stroke="#2a62c8" stroke-width="1.4"/><polygon points="1664,12 1666,15 1667,11" fill="#6a6a6a"/><ellipse cx="1662" cy="8.3" rx="6.2" ry="4.7" fill="#f6f6f8" stroke="#8a8a8a" stroke-width="0.9"/><polygon points="1650.5,14.5 1650.3,17.8 1653.5,15.2" fill="#6a6a6a"/><ellipse cx="1653.3" cy="11.9" rx="4.9" ry="3.8" fill="#f4f4f6" stroke="#8a8a8a" stroke-width="0.9"/></g>
</svg>

<div id="mask"></div>
<div id="sellTab"><span>SELL</span><i></i></div>
<div id="sellBig"><b>128</b><em>05</em><sup>4</sup></div>
<div id="buyTab"><span>BUY</span><i></i></div>
<div id="buyBig"><b>128</b><em>10</em><sup>6</sup></div>
<div class="tl" style="left:54px;width:57px"></div><div class="tl" style="left:113px;width:56px"></div>
<div id="lot"><div class="btn l"><s class="dn"></s></div><div class="val">1.00</div><div class="btn r"><s class="up"></s></div></div>

</body></html>
